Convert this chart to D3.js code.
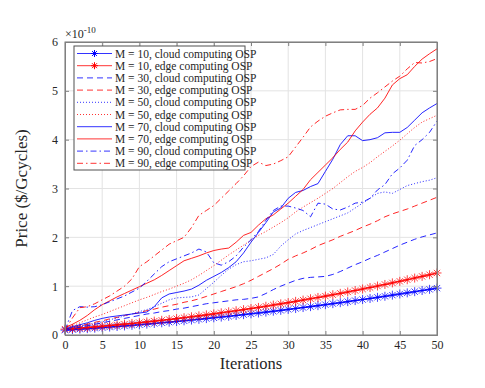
<!DOCTYPE html>
<html><head><meta charset="utf-8">
<script src="https://cdn.jsdelivr.net/npm/d3@7"></script>
<style>
body{margin:0;background:#fff}
svg{display:block}
text{font-family:"Liberation Serif","Times New Roman",serif;fill:#262626}
</style>
</head><body>
<svg id="c" width="485" height="388"></svg>
<script>
const iterations = d3.range(0, 51);
const xTicks = [0, 5, 10, 15, 20, 25, 30, 35, 40, 45, 50];
const yTicks = [0, 1, 2, 3, 4, 5, 6];

const m10Cloud = [0.100,0.110,0.120,0.130,0.140,0.151,0.163,0.174,0.186,0.198,0.210,0.223,0.236,0.250,0.263,0.277,0.291,0.306,0.321,0.336,0.352,0.367,0.383,0.400,0.417,0.434,0.451,0.469,0.487,0.505,0.524,0.542,0.562,0.581,0.601,0.621,0.642,0.662,0.683,0.705,0.726,0.748,0.771,0.793,0.816,0.840,0.863,0.887,0.911,0.935,0.960];
const m10Edge = [0.120,0.131,0.142,0.154,0.167,0.180,0.193,0.207,0.222,0.237,0.252,0.268,0.284,0.301,0.318,0.336,0.354,0.373,0.392,0.412,0.433,0.454,0.475,0.497,0.519,0.542,0.565,0.589,0.613,0.638,0.663,0.689,0.715,0.742,0.769,0.796,0.824,0.853,0.882,0.911,0.942,0.972,1.003,1.035,1.067,1.099,1.132,1.166,1.200,1.234,1.270];
const m30Cloud = [0.10,0.13,0.16,0.19,0.22,0.25,0.28,0.31,0.34,0.37,0.40,0.43,0.45,0.48,0.50,0.53,0.55,0.58,0.61,0.64,0.66,0.68,0.70,0.72,0.73,0.75,0.78,0.85,0.93,1.00,1.06,1.12,1.16,1.18,1.19,1.20,1.24,1.30,1.37,1.44,1.50,1.57,1.63,1.70,1.77,1.84,1.90,1.96,2.01,2.05,2.09];
const m30Edge = [0.12,0.15,0.19,0.22,0.26,0.29,0.33,0.36,0.40,0.43,0.46,0.50,0.53,0.57,0.60,0.63,0.67,0.70,0.74,0.79,0.84,0.89,0.94,0.99,1.05,1.12,1.20,1.28,1.36,1.45,1.55,1.62,1.68,1.75,1.83,1.89,1.95,2.02,2.08,2.14,2.21,2.27,2.34,2.42,2.48,2.53,2.58,2.64,2.70,2.76,2.82];
const m50Cloud = [0.12,0.15,0.18,0.21,0.24,0.27,0.31,0.35,0.39,0.43,0.48,0.52,0.58,0.65,0.72,0.76,0.77,0.78,0.82,0.95,1.08,1.22,1.35,1.44,1.50,1.52,1.55,1.58,1.65,1.82,1.95,2.07,2.14,2.20,2.26,2.32,2.38,2.44,2.50,2.60,2.70,2.80,2.90,2.93,2.90,2.98,3.06,3.10,3.14,3.17,3.22];
const m50Edge = [0.13,0.19,0.25,0.31,0.37,0.42,0.48,0.54,0.60,0.66,0.72,0.77,0.83,0.89,0.94,1.00,1.06,1.13,1.22,1.32,1.42,1.53,1.64,1.74,1.84,1.94,2.04,2.12,2.21,2.30,2.40,2.52,2.62,2.71,2.80,2.90,3.00,3.12,3.24,3.35,3.43,3.53,3.65,3.76,3.87,3.99,4.12,4.25,4.36,4.43,4.50];
const m70Cloud = [0.12,0.17,0.21,0.25,0.30,0.34,0.37,0.39,0.41,0.43,0.45,0.47,0.58,0.76,0.84,0.87,0.90,0.94,1.02,1.12,1.20,1.28,1.38,1.50,1.68,1.90,2.10,2.30,2.52,2.60,2.80,2.92,2.96,3.04,3.10,3.35,3.60,3.90,4.08,4.08,3.98,4.00,4.04,4.14,4.15,4.15,4.25,4.40,4.55,4.65,4.74];
const m70Edge = [0.15,0.22,0.30,0.40,0.52,0.62,0.70,0.78,0.85,0.92,0.99,1.06,1.13,1.22,1.32,1.42,1.52,1.57,1.62,1.68,1.73,1.76,1.78,1.90,2.04,2.10,2.25,2.38,2.46,2.58,2.70,2.84,2.98,3.18,3.33,3.48,3.63,3.80,3.95,4.18,4.36,4.52,4.65,4.85,5.12,5.25,5.33,5.50,5.65,5.76,5.86];
const m90Cloud = [0.10,0.50,0.58,0.57,0.58,0.62,0.68,0.74,0.80,0.88,0.96,1.10,1.25,1.40,1.50,1.56,1.62,1.68,1.76,1.70,1.48,1.43,1.50,1.62,1.80,1.95,2.12,2.35,2.55,2.64,2.64,2.60,2.55,2.42,2.70,2.68,2.58,2.56,2.62,2.70,2.72,2.80,2.97,3.08,3.30,3.42,3.58,3.88,4.00,4.15,4.38];
const m90Edge = [0.10,0.35,0.56,0.58,0.64,0.72,0.80,0.90,1.00,1.15,1.40,1.50,1.62,1.74,1.86,1.93,2.00,2.20,2.45,2.55,2.65,2.80,2.95,3.10,3.26,3.45,3.54,3.47,3.50,3.57,3.65,3.85,4.05,4.26,4.38,4.48,4.55,4.61,4.62,4.62,4.70,4.85,4.96,5.08,5.20,5.30,5.45,5.58,5.57,5.60,5.66];

const seriesLabels = [
  "M = 10, cloud computing OSP","M = 10, edge computing OSP",
  "M = 30, cloud computing OSP","M = 30, edge computing OSP",
  "M = 50, cloud computing OSP","M = 50, edge computing OSP",
  "M = 70, cloud computing OSP","M = 70, edge computing OSP",
  "M = 90, cloud computing OSP","M = 90, edge computing OSP"];
const seriesValues = [m10Cloud,m10Edge,m30Cloud,m30Edge,m50Cloud,m50Edge,m70Cloud,m70Edge,m90Cloud,m90Edge];
const seriesColors = ["#0000ff","#ff0000","#0000ff","#ff0000","#0000ff","#ff0000","#0000ff","#ff0000","#0000ff","#ff0000"];
const seriesDash = ["none","none","6,4","6,4","1,2","1,2","none","none","6,3,1.5,3","6,3,1.5,3"];
const seriesMarker = [true,true,false,false,false,false,false,false,false,false];

const svg = d3.select("#c");
const x = d3.scaleLinear().domain([0,50]).range([65,437]);
const y = d3.scaleLinear().domain([0,6]).range([335,42]);

// grid
const grid = svg.append("g");
grid.selectAll("line.gx").data(xTicks).join("line")
  .attr("x1",d=>x(d)).attr("x2",d=>x(d)).attr("y1",y(0)).attr("y2",y(6))
  .attr("stroke","#e3e3e3").attr("stroke-width",1);
grid.selectAll("line.gy").data(yTicks).join("line")
  .attr("x1",x(0)).attr("x2",x(50)).attr("y1",d=>y(d)).attr("y2",d=>y(d))
  .attr("stroke","#e3e3e3").attr("stroke-width",1);

// series
const line = d3.line().x((d,i)=>x(iterations[i])).y(d=>y(d));
const starPath = s => `M${-s},0L${s},0M0,${-s}L0,${s}M${-s*0.7},${-s*0.7}L${s*0.7},${s*0.7}M${-s*0.7},${s*0.7}L${s*0.7},${-s*0.7}`;
seriesValues.forEach((vals,k)=>{
  svg.append("path").datum(vals)
    .attr("d",line).attr("fill","none")
    .attr("stroke",seriesColors[k]).attr("stroke-width",seriesMarker[k]?1.6:1)
    .attr("stroke-dasharray",seriesDash[k]==="none"?null:seriesDash[k])
    .attr("stroke-opacity",0.85);
  if (seriesMarker[k]) {
    svg.append("g").selectAll("path").data(vals).join("path")
      .attr("transform",(d,i)=>`translate(${x(iterations[i])},${y(d)})`)
      .attr("d",starPath(4.5)).attr("fill","none")
      .attr("stroke",seriesColors[k]).attr("stroke-width",1).attr("stroke-opacity",0.75);
  }
});

// axes box
const axCol = "#808080";
svg.append("rect").attr("x",x(0)).attr("y",y(6)).attr("width",x(50)-x(0)).attr("height",y(0)-y(6))
  .attr("fill","none").attr("stroke",axCol).attr("stroke-width",1);
const xAxis = d3.axisBottom(x).tickValues(xTicks).tickSize(-4).tickPadding(5).tickFormat(d3.format("d"));
const gx = svg.append("g").attr("transform",`translate(0,${y(0)})`).call(xAxis);
const xAxisTop = d3.axisTop(x).tickValues(xTicks).tickSize(-4).tickFormat("");
const gxt = svg.append("g").attr("transform",`translate(0,${y(6)})`).call(xAxisTop);
const yAxis = d3.axisLeft(y).tickValues(yTicks).tickSize(-4).tickPadding(7).tickFormat(d3.format("d"));
const gy = svg.append("g").attr("transform",`translate(${x(0)},0)`).call(yAxis);
const yAxisR = d3.axisRight(y).tickValues(yTicks).tickSize(-4).tickFormat("");
const gyr = svg.append("g").attr("transform",`translate(${x(50)},0)`).call(yAxisR);
[gx,gxt,gy,gyr].forEach(g=>{
  g.select(".domain").attr("stroke",axCol);
  g.selectAll(".tick line").attr("stroke",axCol);
  g.selectAll("text").attr("font-size",12).attr("fill","#262626")
   .attr("font-family",'"Liberation Serif","Times New Roman",serif');
});

// exponent
const ex = svg.append("text").attr("x",65).attr("y",38).attr("font-size",12);
ex.append("tspan").text("\u00d710");
ex.append("tspan").attr("dy",-5).attr("font-size",9).text("-10");

// labels
svg.append("text").attr("x",(x(0)+x(50))/2).attr("y",369).attr("text-anchor","middle")
  .attr("font-size",16.5).text("Iterations");
svg.append("text").attr("transform",`translate(27,${(y(0)+y(6))/2}) rotate(-90)`)
  .attr("text-anchor","middle").attr("font-size",17).text("Price ($/Gcycles)");

// legend
const lg = svg.append("g").attr("transform","translate(74,46)");
lg.append("rect").attr("x",0).attr("y",0).attr("width",171).attr("height",124)
  .attr("fill","#fff").attr("stroke","#505050").attr("stroke-width",1);
seriesLabels.forEach((lab,k)=>{
  const yy = 7.5 + k*12.2;
  lg.append("line").attr("x1",3).attr("x2",38).attr("y1",yy).attr("y2",yy)
    .attr("stroke",seriesColors[k]).attr("stroke-width",1).attr("stroke-opacity",0.8)
    .attr("stroke-dasharray",seriesDash[k]==="none"?null:seriesDash[k]);
  if (seriesMarker[k]) {
    lg.append("path").attr("transform",`translate(20.5,${yy})`).attr("d",starPath(3.5))
      .attr("stroke",seriesColors[k]).attr("fill","none").attr("stroke-width",1);
  }
  lg.append("text").attr("x",41).attr("y",yy+4).attr("font-size",11.5).text(lab);
});
</script>
</body></html>
